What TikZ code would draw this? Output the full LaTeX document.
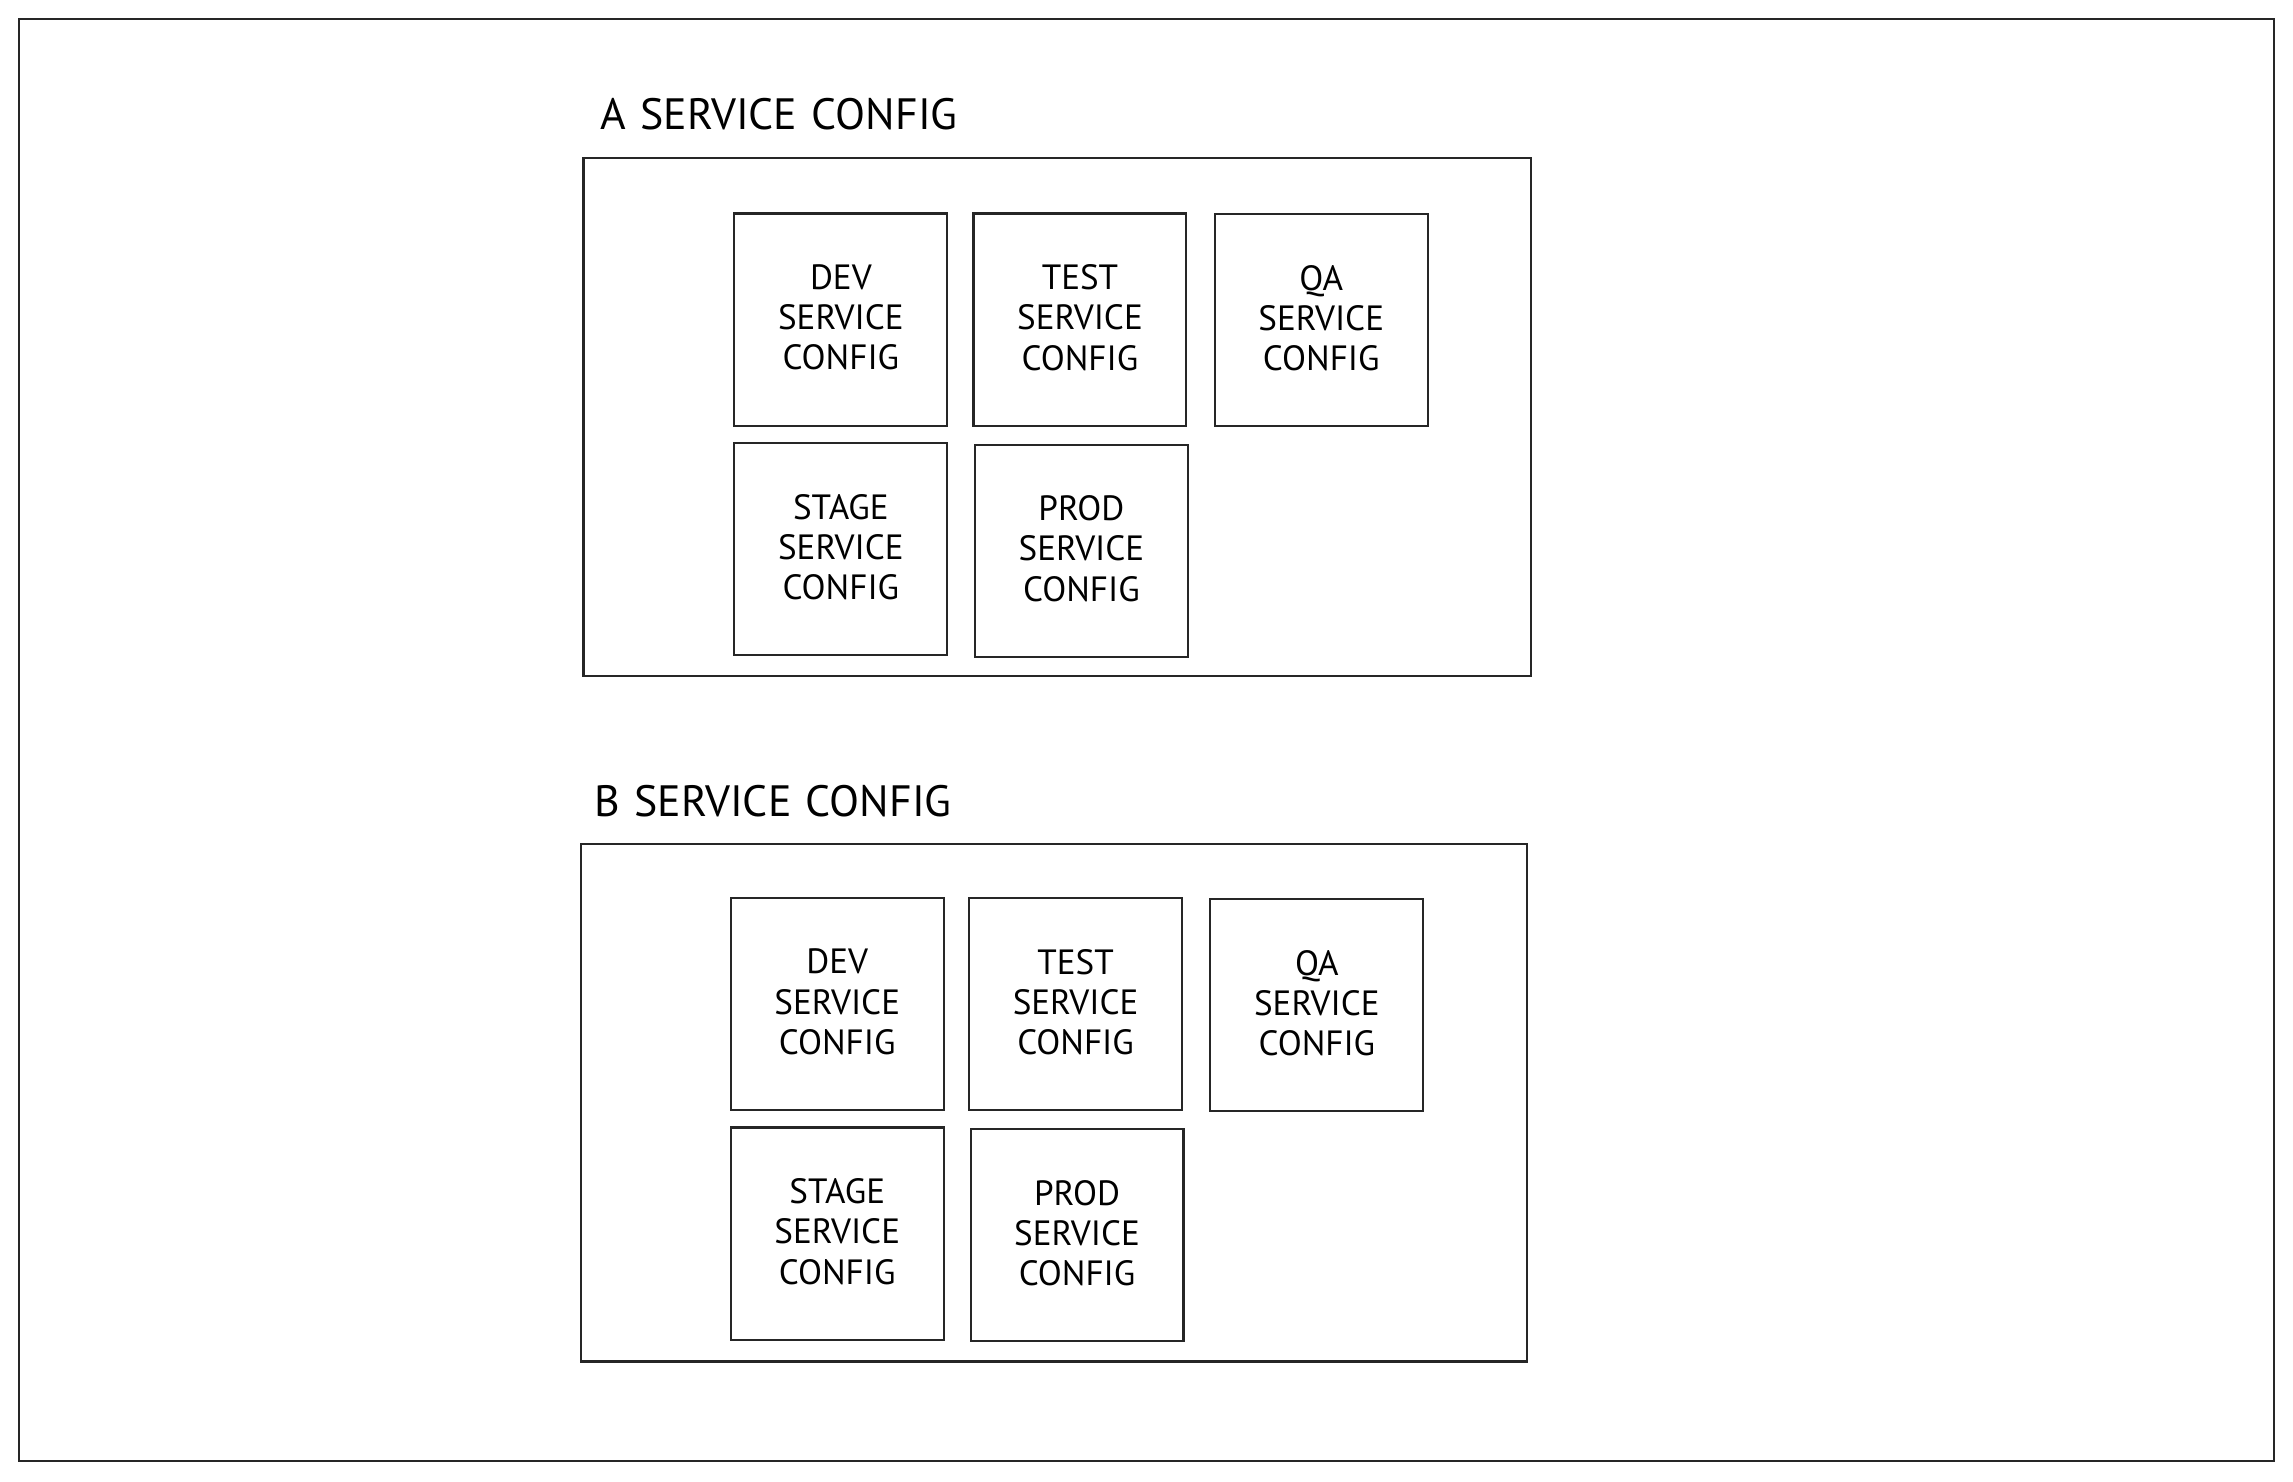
\documentclass[tikz,border=0pt]{standalone}
\usepackage{fontspec}
\setmainfont{PT Sans}
\begin{document}
\begin{tikzpicture}[x=0.5pt,y=-0.5pt,
  frame/.style={draw=black!85, line width=0.7pt},
  cont/.style={draw=black!85, line width=0.7pt, fill=none},
  cfg/.style={draw=black!85, line width=0.7pt, minimum width=72.8pt, minimum height=72.5pt,
    inner sep=0pt, align=center, text depth=1.5pt, font=\fontsize{12}{13.75}\selectfont},
  ttl/.style={anchor=west, inner sep=0pt, font=\fontsize{15}{18}\selectfont}]
\useasboundingbox (0,0) rectangle (1568,1013.4);
\node[frame, minimum width=771pt, minimum height=493pt, inner sep=0pt] (outer) at (784,506) {};
% A
\node[ttl] (ta) at (410,78) {A\hspace{0.33em}SERVICE\hspace{0.33em}CONFIG};
\node[cont, minimum width=324pt, minimum height=177pt, inner sep=0pt] (ca) at (723,285) {};
\node[cfg] (adev) at (575,218.5) {DEV\\SERVICE\\CONFIG};
\node[cfg] (atest) at (738.5,218.5) {TEST\\SERVICE\\CONFIG};
\node[cfg] (aqa) at (903.5,219) {QA\\SERVICE\\CONFIG};
\node[cfg] (astage) at (575,375.5) {STAGE\\SERVICE\\CONFIG};
\node[cfg] (aprod) at (739.5,376.5) {PROD\\SERVICE\\CONFIG};
% B
\node[ttl] (tb) at (406,548) {B\hspace{0.33em}SERVICE\hspace{0.33em}CONFIG};
\node[cont, minimum width=323.5pt, minimum height=177pt, inner sep=0pt] (cb) at (720.5,754) {};
\node[cfg] (bdev) at (572.5,686.5) {DEV\\SERVICE\\CONFIG};
\node[cfg] (btest) at (735.5,686.5) {TEST\\SERVICE\\CONFIG};
\node[cfg] (bqa) at (900.5,687.5) {QA\\SERVICE\\CONFIG};
\node[cfg] (bstage) at (572.5,843.5) {STAGE\\SERVICE\\CONFIG};
\node[cfg] (bprod) at (736.5,844.5) {PROD\\SERVICE\\CONFIG};
\end{tikzpicture}
\end{document}
